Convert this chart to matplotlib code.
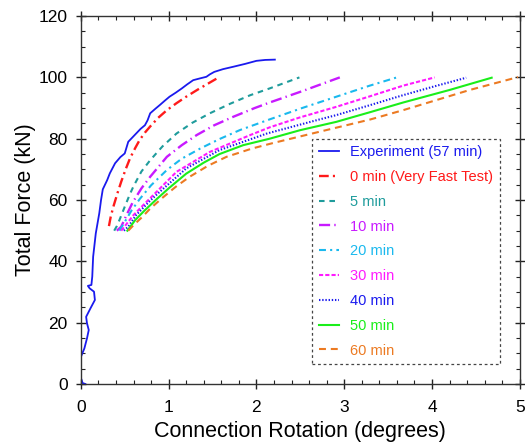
import matplotlib
matplotlib.use("Agg")
import matplotlib.pyplot as plt
from matplotlib.ticker import MultipleLocator

plt.rcParams['font.family'] = ['Liberation Sans', 'DejaVu Sans']
plt.rcParams['lines.scale_dashes'] = False

# measured force vs rotation (57 min test)
exp_x = [0.05, 0.02, 0.0, 0.0, 0.04, 0.07, 0.09, 0.07, 0.06, 0.11, 0.16, 0.15, 0.10, 0.08,
         0.12, 0.13, 0.14, 0.17, 0.21, 0.23, 0.25, 0.30, 0.33, 0.39, 0.45, 0.50, 0.54, 0.59,
         0.63, 0.68, 0.73, 0.76, 0.79, 0.85, 0.90, 0.96, 1.01, 1.08, 1.15, 1.21, 1.28, 1.36,
         1.43, 1.47, 1.52, 1.62, 1.74, 1.87, 2.00, 2.10, 2.21]
exp_y = [0.0, 0.3, 2.0, 8.8, 11.6, 14.9, 17.6, 19.8, 21.9, 24.7, 27.4, 30.1, 31.2, 32.0,
         32.3, 35.0, 41.5, 49.1, 55.7, 60.0, 63.5, 66.5, 68.7, 72.0, 74.0, 75.2, 79.0, 80.5,
         81.7, 83.2, 84.4, 86.0, 88.3, 89.8, 91.0, 92.5, 93.7, 95.0, 96.4, 97.7, 99.1, 99.7,
         100.2, 101.0, 101.8, 102.7, 103.5, 104.4, 105.4, 105.7, 105.8]

# model predictions for different load durations
m0_x = [0.32, 0.34, 0.37, 0.42, 0.46, 0.51, 0.56, 0.62, 0.67, 0.73, 0.79, 0.88, 0.98, 1.09,
        1.20, 1.33, 1.45, 1.57]
m0_y = [51.5, 54.5, 57.8, 62.5, 66.0, 70.0, 73.6, 77.0, 79.6, 82.0, 84.0, 86.8, 89.3, 91.6,
        93.7, 96.0, 98.0, 100.0]

m5_x = [0.38, 0.41, 0.44, 0.50, 0.56, 0.60, 0.69, 0.79, 0.93, 1.09, 1.27, 1.47, 1.70, 1.93,
        2.15, 2.49]
m5_y = [50.0, 51.5, 53.5, 57.8, 62.0, 64.5, 69.3, 73.0, 77.5, 81.7, 85.2, 88.3, 91.4, 94.2,
        96.4, 100.0]

m10_x = [0.41, 0.46, 0.52, 0.59, 0.69, 0.79, 0.98, 1.15, 1.32, 1.52, 1.74, 1.98, 2.15, 2.53,
         2.95]
m10_y = [50.0, 51.3, 55.1, 59.2, 63.8, 67.6, 74.1, 77.9, 81.2, 84.4, 87.2, 90.0, 91.8, 95.6,
         100.0]

m20_x = [0.44, 0.49, 0.58, 0.67, 0.80, 0.98, 1.15, 1.36, 1.58, 1.81, 2.15, 2.53, 2.91, 3.29,
         3.60]
m20_y = [50.0, 52.4, 56.7, 60.3, 64.8, 69.8, 73.5, 76.8, 79.9, 82.8, 86.3, 90.1, 93.7, 97.3,
         100.0]

m30_x = [0.46, 0.51, 0.60, 0.73, 0.79, 1.09, 1.47, 1.93, 2.15, 2.49, 2.91, 3.30, 3.67, 4.03]
m30_y = [50.0, 51.8, 55.1, 58.9, 60.6, 69.2, 75.7, 81.2, 83.7, 86.9, 90.4, 93.9, 97.3, 100.0]

m40_x = [0.49, 0.54, 0.63, 0.79, 0.88, 1.20, 1.58, 2.12, 2.72, 2.91, 3.30, 3.67, 4.03, 4.39]
m40_y = [50.0, 51.3, 55.1, 59.8, 62.2, 70.3, 76.3, 81.7, 86.3, 87.7, 91.0, 94.2, 97.1, 99.9]

m50_x = [0.53, 0.62, 0.73, 0.86, 1.00, 1.20, 1.40, 1.58, 1.85, 2.15, 2.50, 2.91, 3.30, 3.67,
         4.20, 4.68]
m50_y = [50.0, 53.5, 56.7, 60.2, 63.8, 68.6, 72.2, 75.0, 77.9, 80.0, 82.8, 85.5, 88.7, 91.8,
         95.9, 99.9]

m60_x = [0.54, 0.60, 0.70, 0.79, 0.92, 1.08, 1.24, 1.45, 1.66, 1.95, 2.19, 2.65, 2.91, 3.30,
         3.67, 4.05, 4.43, 4.98]
m60_y = [50.0, 51.8, 54.5, 57.2, 60.5, 64.3, 67.6, 71.2, 74.1, 76.8, 78.6, 81.8, 83.6, 86.3,
         89.3, 92.6, 95.9, 100.1]

labels = ["Experiment (57 min)", "0 min (Very Fast Test)", "5 min", "10 min", "20 min",
          "30 min", "40 min", "50 min", "60 min"]
colors = ["#1a1aee", "#ff1a1a", "#1f9c9c", "#c81aff", "#1ab9ee", "#ff1aff", "#1a1aee",
          "#1aee1a", "#ec7a22"]

fig = plt.figure(figsize=(5.25, 4.47), dpi=100)
ax = fig.add_axes([0.154, 0.141, 0.836, 0.823])

ax.plot(exp_x, exp_y, color=colors[0], lw=1.3, label=labels[0])
ax.plot(m0_x, m0_y, color=colors[1], lw=1.7, dashes=(7, 3, 1.5, 3), label=labels[1])
ax.plot(m5_x, m5_y, color=colors[2], lw=1.5, dashes=(4, 3.5), label=labels[2])
ax.plot(m10_x, m10_y, color=colors[3], lw=1.7, dashes=(8, 3, 1, 3), label=labels[3])
ax.plot(m20_x, m20_y, color=colors[4], lw=1.5, dashes=(5, 3, 1.5, 3), label=labels[4])
ax.plot(m30_x, m30_y, color=colors[5], lw=1.5, dashes=(3, 1.5), label=labels[5])
ax.plot(m40_x, m40_y, color=colors[6], lw=1.5, dashes=(1, 1.3), label=labels[6])
ax.plot(m50_x, m50_y, color=colors[7], lw=1.5, label=labels[7])
ax.plot(m60_x, m60_y, color=colors[8], lw=1.5, dashes=(5, 3.5), label=labels[8])

ax.set_xlim(0, 5)
ax.set_ylim(0, 120)
ax.xaxis.set_major_locator(MultipleLocator(1))
ax.xaxis.set_minor_locator(MultipleLocator(0.2))
ax.yaxis.set_major_locator(MultipleLocator(20))
ax.yaxis.set_minor_locator(MultipleLocator(5))
ax.tick_params(which='major', direction='inout', length=7, width=1, labelsize=12.5,
               top=True, right=True, colors='#222222', labelcolor='black')
ax.tick_params(which='minor', direction='in', length=3, width=0.8,
               top=True, right=True, colors='#222222')
ax.tick_params(axis='x', which='major', pad=8)
ax.tick_params(axis='y', which='major', pad=6)
for s in ax.spines.values():
    s.set_color('#333333')
    s.set_linewidth(1.0)

ax.set_xlabel("Connection Rotation (degrees)", fontsize=15.5, labelpad=4)
ax.set_ylabel("Total Force (kN)", fontsize=15.5, labelpad=2)

leg = ax.legend(loc='lower right', bbox_to_anchor=(0.954, 0.054), fontsize=10.5,
                handlelength=1.4, handletextpad=0.75, labelspacing=0.74,
                borderpad=0.45, borderaxespad=0, fancybox=False, framealpha=1)
frame = leg.get_frame()
frame.set_linestyle((0, (2, 2)))
frame.set_edgecolor('#444444')
frame.set_linewidth(0.9)
for txt, c in zip(leg.get_texts(), colors):
    txt.set_color(c)

fig.savefig("out.png", dpi=100)
